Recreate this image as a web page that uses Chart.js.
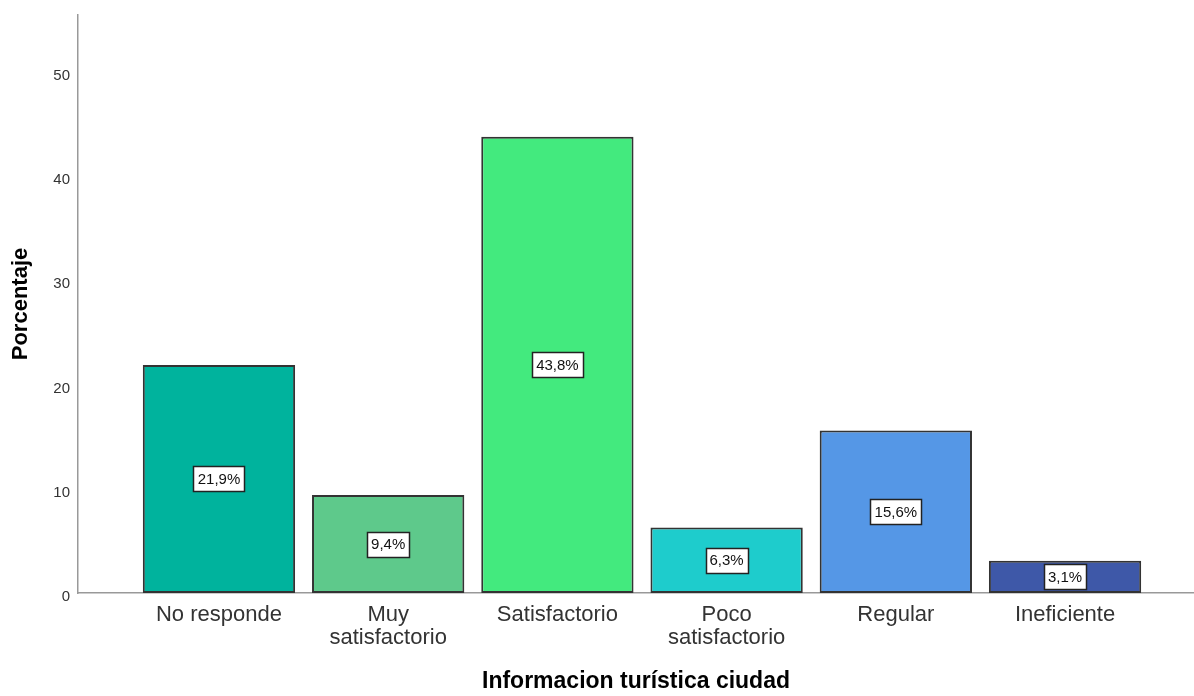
<!DOCTYPE html>
<html><head><meta charset="utf-8">
<script src="https://cdn.jsdelivr.net/npm/chart.js@4/dist/chart.umd.min.js"></script>
<style>html,body{margin:0;padding:0;background:#fff;}canvas{display:block;}</style>
</head><body>
<canvas id="c" width="1194" height="696"></canvas>
<script>
const categories = [["No responde"], ["Muy", "satisfactorio"], ["Satisfactorio"], ["Poco", "satisfactorio"], ["Regular"], ["Ineficiente"]];
const percentages = [21.9, 9.4, 43.8, 6.3, 15.6, 3.1];
const valueLabels = ["21,9%", "9,4%", "43,8%", "6,3%", "15,6%", "3,1%"];
const barColors = ["#00b39d", "#5ec98b", "#43ea7e", "#1ecccc", "#5597e6", "#3e58a8"];
const yTicks = [0, 10, 20, 30, 40, 50];

const FONT = "'Liberation Sans', Arial, sans-serif";

const boxLabels = {
  id: 'boxLabels',
  afterDatasetsDraw(chart) {
    const ctx = chart.ctx;
    const meta = chart.getDatasetMeta(0);
    ctx.save();
    ctx.font = "15px " + FONT;
    ctx.textAlign = 'center';
    ctx.textBaseline = 'middle';
    meta.data.forEach((bar, i) => {
      const txt = valueLabels[i];
      const cx = bar.x;
      const cy = (bar.y + bar.base) / 2;
      const w = Math.round(ctx.measureText(txt).width + 8);
      const h = 25;
      const x0 = Math.round(cx - w / 2) + 0.5, y0 = Math.round(cy - h / 2) + 0.5;
      ctx.fillStyle = '#fff';
      ctx.fillRect(x0, y0, w, h);
      ctx.strokeStyle = '#222';
      ctx.lineWidth = 1.5;
      ctx.strokeRect(x0, y0, w, h);
      ctx.fillStyle = '#111';
      ctx.fillText(txt, cx, cy + 1);
    });
    ctx.restore();
  }
};

new Chart(document.getElementById('c'), {
  type: 'bar',
  data: {
    datasets: [{
      data: percentages.map((v, i) => ({ x: i, y: v })),
      backgroundColor: barColors,
      borderColor: '#333',
      borderWidth: 2,
      borderSkipped: false,
      barPercentage: 0.9,
      categoryPercentage: 1.0
    }]
  },
  options: {
    responsive: false,
    animation: false,
    devicePixelRatio: 1,
    layout: { padding: { top: 15, left: 0, right: 0, bottom: 0 } },
    plugins: { legend: { display: false }, tooltip: { enabled: false } },
    scales: {
      x: {
        type: 'linear',
        bounds: 'data',
        offset: false,
        min: -0.833,
        max: 5.762,
        grid: { display: false, drawTicks: false },
        border: { display: true, color: '#999', width: 1.5 },
        afterBuildTicks: (s) => { s.ticks = categories.map((c, i) => ({ value: i })); },
        afterFit: (s) => { s.height = 103; s.paddingLeft = 0; s.paddingRight = 0; },
        ticks: {
          autoSkip: false,
          maxRotation: 0,
          padding: 10,
          color: '#333',
          font: { family: FONT, size: 22, lineHeight: 1.05 },
          callback: (v) => categories[v] || ''
        },
        title: {
          display: true,
          text: 'Informacion turística ciudad',
          color: '#000',
          font: { family: FONT, size: 23, weight: 'bold' },
          padding: { top: 0, bottom: 1 }
        }
      },
      y: {
        min: 0,
        max: 55.5,
        grid: { display: false, drawTicks: false },
        border: { display: true, color: '#999', width: 1.5 },
        afterBuildTicks: (s) => { s.ticks = yTicks.map(v => ({ value: v })); },
        afterFit: (s) => { s.width = 78; s.paddingTop = 0; s.paddingBottom = 0; },
        ticks: {
          padding: 8,
          color: '#333',
          font: { family: FONT, size: 15, lineHeight: 0.5 },
          callback: (v) => ['', String(v)]
        },
        title: {
          display: true,
          text: 'Porcentaje',
          color: '#000',
          font: { family: FONT, size: 22, weight: 'bold' },
          padding: { top: 8, bottom: 0 }
        }
      }
    }
  },
  plugins: [boxLabels]
});
</script>
</body></html>
